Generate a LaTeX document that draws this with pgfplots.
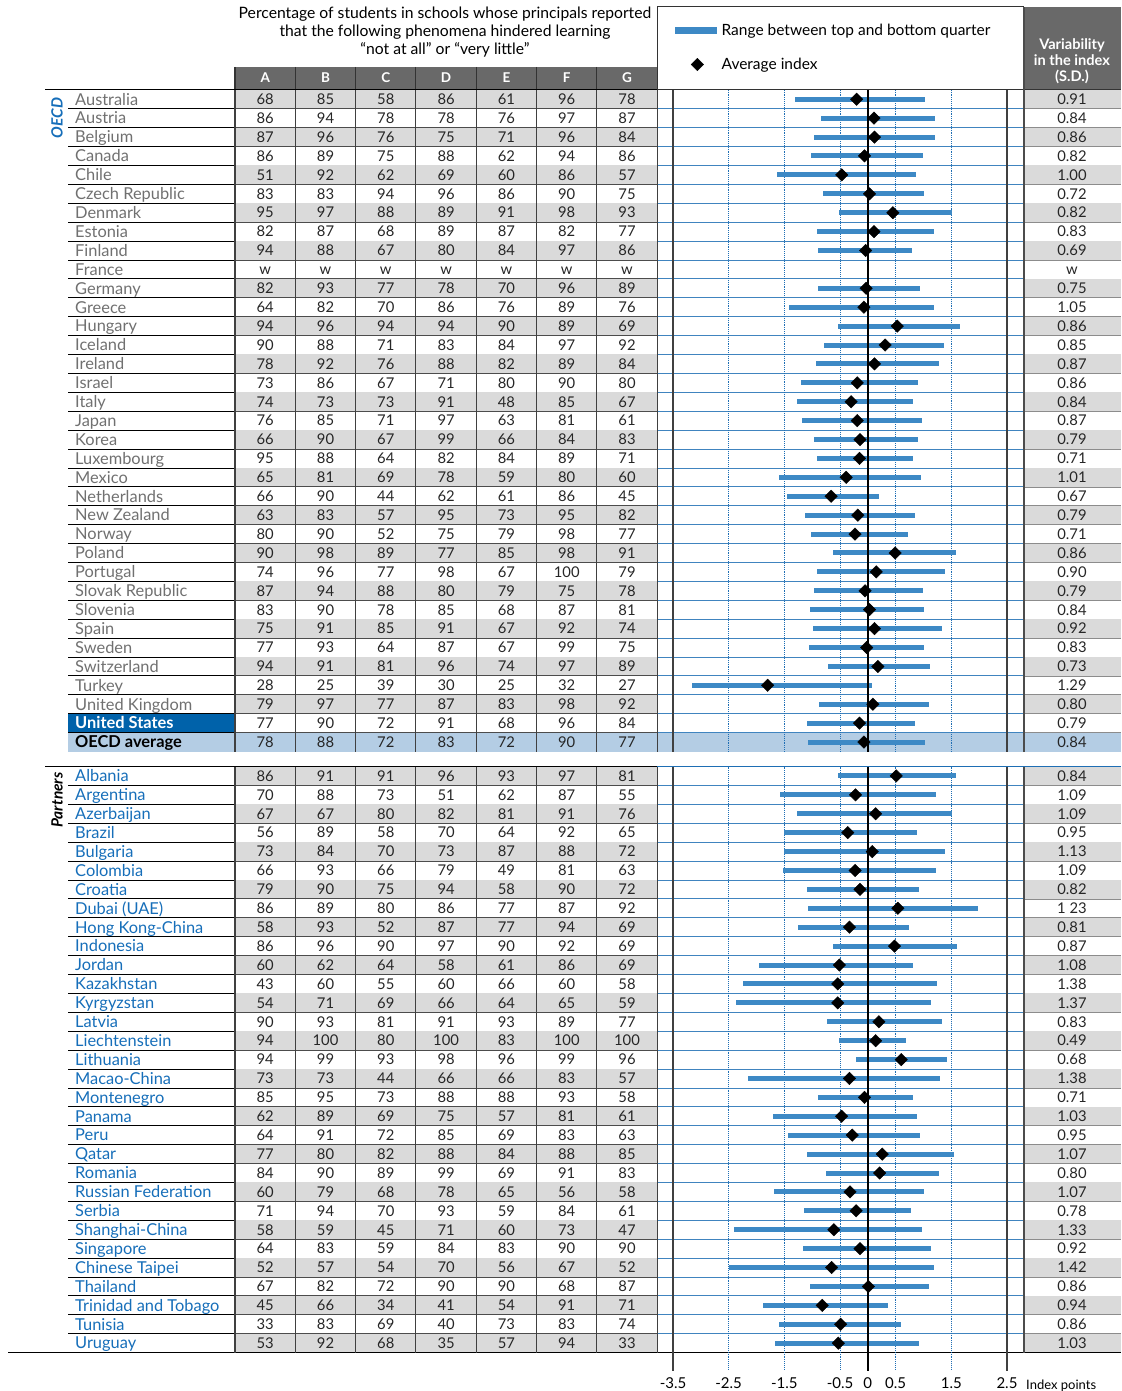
\documentclass[border=0pt]{standalone}
\usepackage{pgfplots}
\pgfplotsset{compat=1.18}
\usepackage{pgfplotstable}
\usepackage{fontspec}
\setmainfont{Lato}
\definecolor{barblue}{RGB}{61,137,197}
\definecolor{gridblue}{RGB}{30,110,180}
\definecolor{rowgray}{RGB}{218,218,218}
\definecolor{hdrgray}{RGB}{105,105,105}
\definecolor{namegray}{RGB}{112,112,112}
\definecolor{partblue}{RGB}{22,110,185}
\definecolor{usblue}{RGB}{0,98,170}
\definecolor{avgblue}{RGB}{180,205,228}
\newcommand{\fs}[1]{\fontsize{#1pt}{#1pt}\selectfont}

\pgfplotstableread{
row low high mean
0 -1.30 1.02 -0.20
1 -0.84 1.21 0.11
2 -0.96 1.21 0.12
3 -1.03 0.99 -0.06
4 -1.63 0.87 -0.47
5 -0.81 1.00 0.03
6 -0.52 1.52 0.45
7 -0.91 1.19 0.11
8 -0.90 0.80 -0.04
10 -0.90 0.93 -0.03
11 -1.41 1.18 -0.07
12 -0.53 1.65 0.53
13 -0.78 1.36 0.31
14 -0.93 1.27 0.12
15 -1.20 0.90 -0.19
16 -1.28 0.82 -0.30
17 -1.19 0.98 -0.19
18 -0.97 0.90 -0.14
19 -0.92 0.82 -0.15
20 -1.60 0.95 -0.39
21 -1.45 0.20 -0.66
22 -1.12 0.84 -0.18
23 -1.03 0.72 -0.23
24 -0.62 1.58 0.49
25 -0.92 1.38 0.15
26 -0.96 0.99 -0.05
27 -1.04 1.01 0.03
28 -0.99 1.33 0.12
29 -1.05 1.01 -0.02
30 -0.72 1.11 0.18
31 -3.16 0.07 -1.80
32 -0.88 1.10 0.09
33 -1.09 0.85 -0.15
34 -1.08 1.02 -0.07
}\oecddata

\pgfplotstableread{
row low high mean
0 -0.54 1.59 0.51
1 -1.58 1.22 -0.22
2 -1.28 1.51 0.14
3 -1.50 0.88 -0.36
4 -1.50 1.39 0.08
5 -1.52 1.23 -0.23
6 -1.10 0.92 -0.14
7 -1.08 1.98 0.54
8 -1.26 0.74 -0.33
9 -0.62 1.60 0.48
10 -1.96 0.81 -0.51
11 -2.25 1.25 -0.54
12 -2.37 1.14 -0.54
13 -0.73 1.33 0.20
14 -0.51 0.69 0.14
15 -0.21 1.42 0.60
16 -2.15 1.30 -0.33
17 -0.90 0.82 -0.06
18 -1.70 0.88 -0.47
19 -1.43 0.93 -0.28
20 -1.10 1.54 0.26
21 -0.76 1.28 0.21
22 -1.69 1.01 -0.32
23 -1.15 0.77 -0.21
24 -2.41 0.98 -0.61
25 -1.17 1.13 -0.14
26 -2.49 1.18 -0.65
27 -1.04 1.10 0.01
28 -1.88 0.37 -0.82
29 -1.59 0.60 -0.49
30 -1.67 0.92 -0.53
}\partdata

\tikzset{
 nameO/.style={anchor=base west, inner sep=0pt, font=\fs{16.4}, text=namegray},
 nameU/.style={anchor=base west, inner sep=0pt, font=\fs{16.4}\bfseries, text=white},
 nameA/.style={anchor=base west, inner sep=0pt, font=\fs{16.4}\bfseries, text=black},
 nameP/.style={anchor=base west, inner sep=0pt, font=\fs{16.4}, text=partblue},
 num/.style={anchor=base, inner sep=0pt, font=\fs{14.8}, text=black!85},
 gridline/.style={gridblue, densely dotted, line width=0.9pt},
 frameline/.style={black!75, line width=1.1pt},
 zeroline/.style={black, line width=2.3pt},
}

\begin{document}
\begin{tikzpicture}
\begin{scope}[x=1pt,y=-1pt]
% ---------- header ----------
\node[font=\fs{15.7}, anchor=base] at (445,19) {Percentage of students in schools whose principals reported};
\node[font=\fs{15.7}, anchor=base] at (445,37) {that the following phenomena hindered learning};
\node[font=\fs{15.7}, anchor=base] at (445,55) {“not at all” or “very little”};
\fill[hdrgray] (235,67) rectangle (657,89.8);
\foreach \L [count=\k from 0] in {A,B,C,D,E,F,G}{
  \node[anchor=base, inner sep=0pt, font=\fs{13.5}\bfseries, text=white] at ({265.2+60.3*\k},83) {\L};
}
\foreach \x in {235,295.3,355.6,415.9,476.2,536.5,596.8,657.1}{
  \draw[black!80, line width=1.1pt] (\x,67) -- (\x,89.8);
}
\fill[hdrgray] (1024,7) rectangle (1121,89.8);
\node[anchor=base, inner sep=0pt, font=\fs{14.6}\bfseries, text=white] at (1072,50) {Variability};
\node[anchor=base, inner sep=0pt, font=\fs{14.6}\bfseries, text=white] at (1072,66) {in the index};
\node[anchor=base, inner sep=0pt, font=\fs{14.6}\bfseries, text=white] at (1072,82) {(S.D.)};
\draw[black!80, line width=1pt] (657,7) -- (1024,7);
\draw[black!80, line width=1pt] (657,7) -- (657,67);

% ---------- backgrounds for special rows ----------
\fill[usblue] (68,{89.8+18.906*33}) rectangle (235,{89.8+18.906*34});
\fill[avgblue] (68,{89.8+18.906*34}) rectangle (1121,{89.8+18.906*35});

% ---------- OECD table ----------
\foreach \i/\nm/\st/\cA/\cB/\cC/\cD/\cE/\cF/\cG/\s in {
0/Australia/O/68/85/58/86/61/96/78/0.91,
1/Austria/O/86/94/78/78/76/97/87/0.84,
2/Belgium/O/87/96/76/75/71/96/84/0.86,
3/Canada/O/86/89/75/88/62/94/86/0.82,
4/Chile/O/51/92/62/69/60/86/57/1.00,
5/Czech Republic/O/83/83/94/96/86/90/75/0.72,
6/Denmark/O/95/97/88/89/91/98/93/0.82,
7/Estonia/O/82/87/68/89/87/82/77/0.83,
8/Finland/O/94/88/67/80/84/97/86/0.69,
9/France/O/w/w/w/w/w/w/w/w,
10/Germany/O/82/93/77/78/70/96/89/0.75,
11/Greece/O/64/82/70/86/76/89/76/1.05,
12/Hungary/O/94/96/94/94/90/89/69/0.86,
13/Iceland/O/90/88/71/83/84/97/92/0.85,
14/Ireland/O/78/92/76/88/82/89/84/0.87,
15/Israel/O/73/86/67/71/80/90/80/0.86,
16/Italy/O/74/73/73/91/48/85/67/0.84,
17/Japan/O/76/85/71/97/63/81/61/0.87,
18/Korea/O/66/90/67/99/66/84/83/0.79,
19/Luxembourg/O/95/88/64/82/84/89/71/0.71,
20/Mexico/O/65/81/69/78/59/80/60/1.01,
21/Netherlands/O/66/90/44/62/61/86/45/0.67,
22/New Zealand/O/63/83/57/95/73/95/82/0.79,
23/Norway/O/80/90/52/75/79/98/77/0.71,
24/Poland/O/90/98/89/77/85/98/91/0.86,
25/Portugal/O/74/96/77/98/67/100/79/0.90,
26/Slovak Republic/O/87/94/88/80/79/75/78/0.79,
27/Slovenia/O/83/90/78/85/68/87/81/0.84,
28/Spain/O/75/91/85/91/67/92/74/0.92,
29/Sweden/O/77/93/64/87/67/99/75/0.83,
30/Switzerland/O/94/91/81/96/74/97/89/0.73,
31/Turkey/O/28/25/39/30/25/32/27/1.29,
32/United Kingdom/O/79/97/77/87/83/98/92/0.80,
33/United States/U/77/90/72/91/68/96/84/0.79,
34/OECD average/A/78/88/72/83/72/90/77/0.84}{
  \pgfmathsetmacro{\yt}{89.8+18.906*\i}
  \pgfmathsetmacro{\yb}{\yt+18.906}
  \pgfmathsetmacro{\yc}{\yt+9.453}
  \pgfmathtruncatemacro{\odd}{mod(\i,2)}
  \ifnum\odd=0 \ifnum\i<34
    \fill[rowgray] (235,\yt) rectangle (657,\yb);
    \fill[rowgray] (1024,\yt) rectangle (1121,\yb);
  \fi\fi
  \node[name\st] at (75,\yc+5.8) {\nm};
  \foreach \v [count=\k from 0] in {\cA,\cB,\cC,\cD,\cE,\cF,\cG}{
    \node[num] at ({265.2+60.3*\k},\yc+5.3) {\v};
  }
  \node[num] at (1072,\yc+5.3) {\s};
  \ifnum\i<34
    \draw[black, line width=0.8pt] (68,\yb) -- (235,\yb);
    \draw[black!70, line width=0.8pt] (235,\yb) -- (657,\yb);
    \draw[gridblue!85, line width=0.8pt] (657,\yb) -- (1024,\yb);
    \draw[black!45, line width=0.6pt] (1024,\yb) -- (1121,\yb);
  \fi
}

% ---------- Partners table ----------
\foreach \i/\nm/\cA/\cB/\cC/\cD/\cE/\cF/\cG/\s in {
0/Albania/86/91/91/96/93/97/81/0.84,
1/Argentina/70/88/73/51/62/87/55/1.09,
2/Azerbaijan/67/67/80/82/81/91/76/1.09,
3/Brazil/56/89/58/70/64/92/65/0.95,
4/Bulgaria/73/84/70/73/87/88/72/1.13,
5/Colombia/66/93/66/79/49/81/63/1.09,
6/Croatia/79/90/75/94/58/90/72/0.82,
7/Dubai (UAE)/86/89/80/86/77/87/92/1 23,
8/Hong Kong-China/58/93/52/87/77/94/69/0.81,
9/Indonesia/86/96/90/97/90/92/69/0.87,
10/Jordan/60/62/64/58/61/86/69/1.08,
11/Kazakhstan/43/60/55/60/66/60/58/1.38,
12/Kyrgyzstan/54/71/69/66/64/65/59/1.37,
13/Latvia/90/93/81/91/93/89/77/0.83,
14/Liechtenstein/94/100/80/100/83/100/100/0.49,
15/Lithuania/94/99/93/98/96/99/96/0.68,
16/Macao-China/73/73/44/66/66/83/57/1.38,
17/Montenegro/85/95/73/88/88/93/58/0.71,
18/Panama/62/89/69/75/57/81/61/1.03,
19/Peru/64/91/72/85/69/83/63/0.95,
20/Qatar/77/80/82/88/84/88/85/1.07,
21/Romania/84/90/89/99/69/91/83/0.80,
22/Russian Federation/60/79/68/78/65/56/58/1.07,
23/Serbia/71/94/70/93/59/84/61/0.78,
24/Shanghai-China/58/59/45/71/60/73/47/1.33,
25/Singapore/64/83/59/84/83/90/90/0.92,
26/Chinese Taipei/52/57/54/70/56/67/52/1.42,
27/Thailand/67/82/72/90/90/68/87/0.86,
28/Trinidad and Tobago/45/66/34/41/54/91/71/0.94,
29/Tunisia/33/83/69/40/73/83/74/0.86,
30/Uruguay/53/92/68/35/57/94/33/1.03}{
  \pgfmathsetmacro{\yt}{766.5+18.906*\i}
  \pgfmathsetmacro{\yb}{\yt+18.906}
  \pgfmathsetmacro{\yc}{\yt+9.453}
  \pgfmathtruncatemacro{\odd}{mod(\i,2)}
  \ifnum\odd=0
    \fill[rowgray] (235,\yt) rectangle (657,\yb);
    \fill[rowgray] (1024,\yt) rectangle (1121,\yb);
  \fi
  \node[nameP] at (75,\yc+5.8) {\nm};
  \foreach \v [count=\k from 0] in {\cA,\cB,\cC,\cD,\cE,\cF,\cG}{
    \node[num] at ({265.2+60.3*\k},\yc+5.3) {\v};
  }
  \node[num] at (1072,\yc+5.3) {\s};
  \ifnum\i<30
    \draw[black, line width=0.8pt] (68,\yb) -- (235,\yb);
    \draw[black!70, line width=0.8pt] (235,\yb) -- (657,\yb);
    \draw[gridblue!85, line width=0.8pt] (657,\yb) -- (1024,\yb);
    \draw[black!45, line width=0.6pt] (1024,\yb) -- (1121,\yb);
  \fi
}

% ---------- section frames ----------
\draw[black, line width=1pt] (45,89.8) -- (657,89.8);
\draw[black!80, line width=1pt] (657,89.8) -- (1121,89.8);
\draw[gridblue, line width=1pt] (45,766.5) -- (1121,766.5);
\draw[black, line width=1pt] (45,766.5) -- (657,766.5);
\draw[black, line width=1pt] (8,1352.6) -- (1121,1352.6);
\foreach \x in {235,295.3,355.6,415.9,476.2,536.5,596.8,657.1}{
  \draw[black!75, line width=1.1pt] (\x,89.8) -- (\x,751.5);
  \draw[black!75, line width=1.1pt] (\x,766.5) -- (\x,1352.6);
}
\draw[black!70, line width=2pt] (1024,7) -- (1024,751.5);
\draw[black!70, line width=2pt] (1024,766.5) -- (1024,1352.6);

\node[rotate=90, font=\fs{15.5}\bfseries\itshape, text=partblue] at (57,118) {OECD};
\node[rotate=90, font=\fs{15.5}\bfseries\itshape, text=black] at (57,800) {Partners};
\node[anchor=base west, inner sep=0pt, font=\fs{13}] at (1026,1389) {Index points};
\end{scope}

% ---------- OECD plot ----------
\begin{axis}[
  at={(673pt,-89.8pt)}, anchor=north west,
  scale only axis, width=334pt, height=661.7pt,
  xmin=-3.5, xmax=2.5, ymin=-34.5, ymax=0.5,
  hide axis, clip=false,
  legend style={at={(axis description cs:0.006,1.101)}, anchor=north west,
    draw=none, fill=none, font=\fs{15.5}, row sep=19pt, inner sep=0pt,
    nodes={inner sep=1pt}},
  legend cell align=left,
]
\pgfplotsinvokeforeach{-2.5,-1.5,-0.5,0.5,1.5}{
  \draw[gridline] (axis cs:#1,0.5) -- (axis cs:#1,-34.5);
}
\draw[frameline] (axis cs:-3.5,0.5) -- (axis cs:-3.5,-34.5);
\draw[frameline] (axis cs:2.5,0.5) -- (axis cs:2.5,-34.5);
\addplot[draw=none, mark=none, forget plot,
  error bars/.cd, x dir=both, x explicit, error mark=none,
  error bar style={line width=5pt, barblue}]
  table[x=mean, y expr=-\thisrow{row},
        x error plus expr=\thisrow{high}-\thisrow{mean},
        x error minus expr=\thisrow{mean}-\thisrow{low}] {\oecddata};
\draw[zeroline] (axis cs:0,0.5) -- (axis cs:0,-34.5);
\addplot[only marks, mark=square*, mark size=4.4pt, forget plot,
  mark options={rotate=45, fill=black, draw=black}]
  table[x=mean, y expr=-\thisrow{row}] {\oecddata};
\addlegendimage{legend image code/.code={\fill[barblue] (0pt,-3pt) rectangle (41pt,3pt); \path (45pt,0pt);}}
\addlegendentry{Range between top and bottom quarter}
\addlegendimage{legend image code/.code={\draw[mark=square*, mark size=4.4pt, mark options={rotate=45, fill=black, draw=black}] plot coordinates {(22pt,0pt)}; \path (0pt,0pt) (45pt,0pt);}}
\addlegendentry{Average index}
\end{axis}

% ---------- Partners plot ----------
\begin{axis}[
  at={(673pt,-766.5pt)}, anchor=north west,
  scale only axis, width=334pt, height=586.1pt,
  xmin=-3.5, xmax=2.5, ymin=-30.5, ymax=0.5,
  axis x line=bottom, axis y line=none,
  axis line style={draw=none, -}, clip=false,
  xtick={-3.5,-2.5,-1.5,-0.5,0,0.5,1.5,2.5},
  xticklabels={-3.5,-2.5,-1.5,-0.5,0,0.5,1.5,2.5},
  major tick length=0pt,
  xticklabel style={font=\fs{15}, anchor=base, yshift=-36pt},
  ytick=\empty,
]
\pgfplotsinvokeforeach{-2.5,-1.5,-0.5,0.5,1.5}{
  \draw[gridline] (axis cs:#1,0.5) -- (axis cs:#1,-31.45);
}
\draw[frameline] (axis cs:-3.5,0.5) -- (axis cs:-3.5,-31.45);
\draw[frameline] (axis cs:2.5,0.5) -- (axis cs:2.5,-31.45);
\addplot[draw=none, mark=none,
  error bars/.cd, x dir=both, x explicit, error mark=none,
  error bar style={line width=5pt, barblue}]
  table[x=mean, y expr=-\thisrow{row},
        x error plus expr=\thisrow{high}-\thisrow{mean},
        x error minus expr=\thisrow{mean}-\thisrow{low}] {\partdata};
\draw[zeroline] (axis cs:0,0.5) -- (axis cs:0,-31.45);
\addplot[only marks, mark=square*, mark size=4.4pt,
  mark options={rotate=45, fill=black, draw=black}]
  table[x=mean, y expr=-\thisrow{row}] {\partdata};
\end{axis}

\pgfresetboundingbox
\path[use as bounding box] (0pt,0pt) rectangle (1121pt,-1391pt);
\end{tikzpicture}
\end{document}
